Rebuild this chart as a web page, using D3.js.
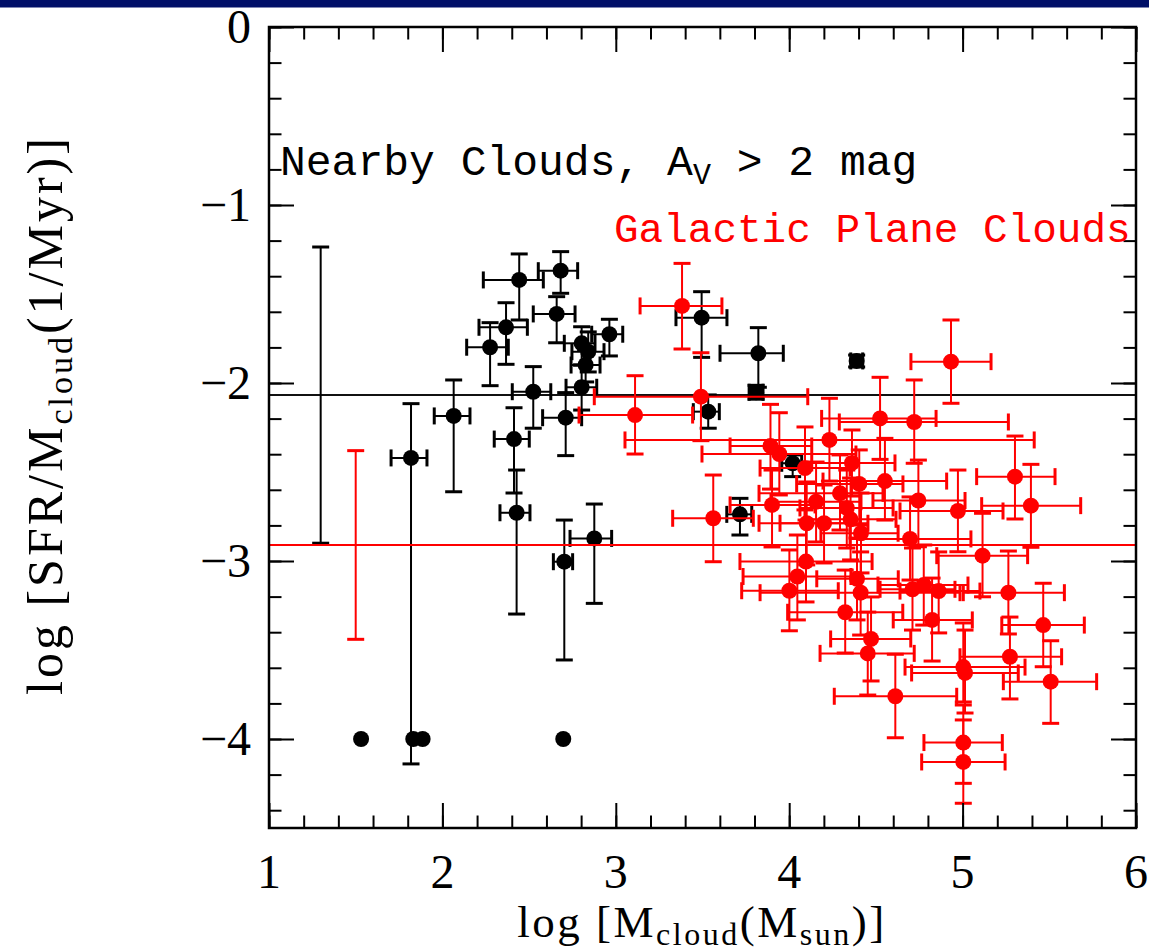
<!DOCTYPE html>
<html>
<head>
<meta charset="utf-8">
<script src="https://cdn.jsdelivr.net/npm/d3@7"></script>
<style>
  html, body { margin: 0; padding: 0; background: #fff; }
  svg { display: block; }
</style>
</head>
<body>
<svg id="chart" width="1149" height="951"></svg>
<script>
// ---- Nearby clouds (A_V > 2 mag): log mass, log SFR/M and error-bar bounds ----
const nearbyX   = [1.819, 2.065, 2.413, 2.428, 2.703, 2.876, 2.711, 2.524, 2.803, 2.275, 2.367, 2.443, 2.682, 2.659, 2.803, 2.841, 2.826, 2.963, 3.495, 3.822, 3.809, 4.389, 3.533, 4.020, 3.716, 1.531, 1.832, 1.886, 2.697];
const nearbyY   = [-2.421, -2.185, -2.315, -2.729, -3.004, -2.873, -2.195, -2.049, -2.024, -1.799, -1.687, -1.421, -1.369, -1.612, -1.777, -1.824, -1.899, -1.726, -1.633, -1.833, -2.052, -1.876, -2.161, -2.451, -2.738, -4, -4, -4, -4];
const nearbyXLo = [1.704, 1.953, 2.299, 2.332, 2.640, 2.736, 2.578, 2.403, 2.713, 2.140, 2.211, 2.236, 2.553, 2.524, 2.703, 2.747, 2.742, 2.861, 3.347, 3.601, 3.769, 4.355, 3.447, 3.957, 3.640, null, null, null, null];
const nearbyXHi = [1.911, 2.159, 2.501, 2.505, 2.751, 2.976, 2.803, 2.625, 2.890, 2.380, 2.490, 2.582, 2.780, 2.765, 2.880, 2.932, 2.909, 3.040, 3.641, 3.966, 3.849, 4.424, 3.597, 4.072, 3.784, null, null, null, null];
const nearbyYLo = [-4.140, -2.611, -2.618, -3.298, -3.556, -3.238, -2.408, -2.254, -2.152, -2.015, -1.895, -1.646, -1.496, -1.774, -1.899, -1.938, -1.994, -1.848, -1.856, -2.024, -2.091, -1.910, -2.254, -2.526, -2.854, null, null, null, null];
const nearbyYHi = [-2.116, -1.983, -2.139, -2.489, -2.770, -2.680, -2.054, -1.908, -1.899, -1.661, -1.549, -1.275, -1.262, -1.515, -1.684, -1.713, -1.815, -1.642, -1.487, -1.689, -2.013, -1.843, -2.067, -2.404, -2.648, null, null, null, null];

// ---- Galactic plane clouds ----
const galacticX   = [3.382, 3.491, 3.111, 3.562, 3.892, 3.943, 3.901, 4.232, 4.091, 4.362, 4.524, 4.721, 4.933, 4.552, 4.404, 4.293, 4.155, 4.745, 4.973, 4.332, 4.354, 4.101, 4.201, 4.414, 4.697, 5.115, 4.097, 4.047, 4.001, 4.391, 4.412, 4.711, 4.776, 4.862, 4.323, 4.824, 4.472, 4.453, 5.004, 5.014, 5.264, 5.465, 5.273, 5.508, 4.612, 5.004, 5.004, 5.302, 5.394];
const galacticY   = [-1.567, -2.077, -2.180, -2.760, -2.354, -2.399, -2.685, -2.320, -2.478, -2.449, -2.199, -2.219, -1.880, -2.551, -2.567, -2.620, -2.667, -2.660, -2.719, -2.702, -2.766, -2.788, -2.788, -2.844, -2.876, -2.970, -3.003, -3.087, -3.167, -3.100, -3.178, -3.159, -3.135, -3.169, -3.288, -3.331, -3.438, -3.519, -3.596, -3.629, -3.178, -3.360, -3.538, -3.678, -3.760, -4.020, -4.129, -2.526, -2.689];
const galacticXLo = [3.140, 2.876, 2.788, 3.328, 3.659, 3.497, 3.659, 3.053, 3.832, 4.130, 4.187, 4.289, 4.702, 4.195, 4.043, 3.826, 3.895, 4.483, 4.639, 4.062, 4.091, 3.826, 3.947, 4.183, 4.351, 4.851, 3.716, 3.734, 3.726, 4.159, 3.832, 4.524, 4.512, 4.639, 3.991, 4.600, 4.239, 4.178, 4.668, 4.706, 5.004, 5.226, 4.985, 5.235, 4.260, 4.777, 4.764, 5.081, 5.110];
const galacticXHi = [3.612, 4.107, 3.443, 3.793, 4.130, 4.385, 4.149, 5.413, 4.351, 4.610, 4.847, 5.264, 5.164, 4.908, 4.656, 4.541, 4.414, 5.014, 5.233, 4.599, 4.616, 4.351, 4.454, 4.628, 5.048, 5.375, 4.478, 4.356, 4.283, 4.629, 4.985, 4.956, 5.031, 5.100, 4.655, 5.056, 4.701, 4.721, 5.360, 5.321, 5.587, 5.702, 5.571, 5.773, 4.966, 5.229, 5.245, 5.533, 5.681];
const galacticYLo = [-1.809, -2.324, -2.399, -3.004, -2.596, -2.629, -2.921, -2.551, -2.713, -2.635, -2.429, -2.451, -2.114, -2.770, -2.798, -2.826, -2.893, -2.920, -2.948, -2.927, -2.994, -3.022, -3.011, -3.067, -3.107, -3.201, -3.230, -3.331, -3.392, -3.331, -3.416, -3.388, -3.360, -3.404, -3.517, -3.562, -3.674, -3.753, -3.792, -3.854, -3.410, -3.594, -3.775, -3.912, -3.993, -4.249, -4.361, -2.764, -2.923];
const galacticYHi = [-1.328, -1.830, -1.959, -2.517, -2.120, -2.167, -2.489, -2.086, -2.247, -2.264, -1.968, -1.983, -1.646, -2.311, -2.376, -2.404, -2.444, -2.433, -2.489, -2.489, -2.534, -2.556, -2.573, -2.618, -2.640, -2.732, -2.770, -2.854, -2.938, -2.871, -2.949, -2.927, -2.910, -2.949, -3.051, -3.096, -3.202, -3.287, -3.348, -3.388, -2.944, -3.125, -3.315, -3.448, -3.524, -3.809, -3.893, -2.298, -2.457];

// ---- Sample means and their scatter (drawn as lines plus a bar at the left) ----
const nearbyMean = -2.068, nearbySpread = 0.832, nearbySpreadX = 1.298;
const galacticMean = -2.910, galacticSpread = 0.530, galacticSpreadX = 1.5;

// ---- Axis ticks ----
const xTicks = [1, 2, 3, 4, 5, 6];
const yTicks = [0, -1, -2, -3, -4];
const xMinor = d3.range(0, 26).map(i => 1 + i * 0.2);
const yMinor = d3.range(0, 23).map(i => -4.4 + i * 0.2);

const W = 1149, H = 951;
const plotLeft = 269, plotRight = 1136, plotTop = 27, plotBottom = 828;
const RED = "#ff0000";

const x = d3.scaleLinear().domain([1, 6]).range([plotLeft, plotRight]);
const y = d3.scaleLinear().domain([-4.5, 0]).range([plotBottom, plotTop]);

const svg = d3.select("#chart");
svg.append("rect").attr("width", W).attr("height", H).attr("fill", "#fff");
// dark banner along the top edge
svg.append("rect").attr("x", 0).attr("y", 0).attr("width", W).attr("height", 7.5).attr("fill", "#000f68");

function rows(xs, ys, xl, xh, yl, yh) {
  return xs.map((v, i) => ({ x: v, y: ys[i], xLo: xl[i], xHi: xh[i], yLo: yl[i], yHi: yh[i] }));
}
const nearby = rows(nearbyX, nearbyY, nearbyXLo, nearbyXHi, nearbyYLo, nearbyYHi);
const galactic = rows(galacticX, galacticY, galacticXLo, galacticXHi, galacticYLo, galacticYHi);

const CAP = 8.5;

function errorBars(g, data, color) {
  const bars = g.append("g").attr("stroke", color).attr("fill", "none");
  data.forEach(d => {
    if (d.xLo != null) {
      const yy = y(d.y);
      bars.append("line").attr("x1", x(d.xLo)).attr("x2", x(d.xHi)).attr("y1", yy).attr("y2", yy).attr("stroke-width", 2);
      [d.xLo, d.xHi].forEach(v => bars.append("line")
        .attr("x1", x(v)).attr("x2", x(v)).attr("y1", yy - CAP).attr("y2", yy + CAP).attr("stroke-width", 3));
    }
    if (d.yLo != null) {
      const xx = x(d.x);
      bars.append("line").attr("x1", xx).attr("x2", xx).attr("y1", y(d.yLo)).attr("y2", y(d.yHi)).attr("stroke-width", 2);
      [d.yLo, d.yHi].forEach(v => bars.append("line")
        .attr("x1", xx - CAP).attr("x2", xx + CAP).attr("y1", y(v)).attr("y2", y(v)).attr("stroke-width", 3));
    }
  });
}

function dots(g, data, color) {
  g.append("g").selectAll("circle").data(data).join("circle")
    .attr("cx", d => x(d.x)).attr("cy", d => y(d.y)).attr("r", 8).attr("fill", color);
}

function meanLine(g, mean, color) {
  g.append("line").attr("x1", x(1)).attr("x2", x(6)).attr("y1", y(mean)).attr("y2", y(mean))
    .attr("stroke", color).attr("stroke-width", 2);
}

function spreadBar(g, xv, mean, spread, color) {
  const xx = x(xv);
  g.append("line").attr("x1", xx).attr("x2", xx).attr("y1", y(mean - spread)).attr("y2", y(mean + spread))
    .attr("stroke", color).attr("stroke-width", 2);
  [mean - spread, mean + spread].forEach(v => g.append("line")
    .attr("x1", xx - CAP).attr("x2", xx + CAP).attr("y1", y(v)).attr("y2", y(v))
    .attr("stroke", color).attr("stroke-width", 3));
}

const plot = svg.append("g");
meanLine(plot, nearbyMean, "#111");
spreadBar(plot, nearbySpreadX, nearbyMean, nearbySpread, "#000");
errorBars(plot, nearby, "#000");
dots(plot, nearby, "#000");

meanLine(plot, galacticMean, RED);
spreadBar(plot, galacticSpreadX, galacticMean, galacticSpread, RED);
errorBars(plot, galactic, RED);
dots(plot, galactic, RED);

// ---- Frame and inward ticks on all four sides ----
function tickSet(axis, tx, ty, values, len) {
  svg.append("g").attr("transform", `translate(${tx},${ty})`)
    .call(axis.tickValues(values).tickSize(-len).tickFormat(""))
    .call(g => g.select(".domain").remove())
    .selectAll("line").attr("stroke", "#000").attr("stroke-width", 2);
}
tickSet(d3.axisBottom(x), 0, plotBottom, xMinor, 12.5);
tickSet(d3.axisBottom(x), 0, plotBottom, xTicks, 25);
tickSet(d3.axisTop(x), 0, plotTop, xMinor, 12.5);
tickSet(d3.axisTop(x), 0, plotTop, xTicks, 25);
tickSet(d3.axisLeft(y), plotLeft, 0, yMinor, 12.5);
tickSet(d3.axisLeft(y), plotLeft, 0, yTicks, 25);
tickSet(d3.axisRight(y), plotRight, 0, yMinor, 12.5);
tickSet(d3.axisRight(y), plotRight, 0, yTicks, 25);

svg.append("rect").attr("x", plotLeft).attr("y", plotTop)
  .attr("width", plotRight - plotLeft).attr("height", plotBottom - plotTop)
  .attr("fill", "none").attr("stroke", "#000").attr("stroke-width", 2.5);

// ---- Tick labels ----
const serif = "'Liberation Serif', 'DejaVu Serif', serif";
svg.append("g").selectAll("text").data(xTicks).join("text")
  .attr("x", d => x(d)).attr("y", 888).attr("text-anchor", "middle")
  .attr("font-family", serif).attr("font-size", 48).attr("fill", "#000")
  .text(d => d);
svg.append("g").selectAll("text").data(yTicks).join("text")
  .attr("x", 251).attr("y", d => y(d) + 16).attr("text-anchor", "end")
  .attr("font-family", serif).attr("font-size", 48).attr("fill", "#000")
  .text(d => d === 0 ? "0" : "\u2212" + Math.abs(d));

// ---- Axis titles ----
const xt = svg.append("text").attr("x", 702).attr("y", 937).attr("text-anchor", "middle")
  .attr("font-family", serif).attr("font-size", 45).attr("letter-spacing", 2.5).attr("fill", "#000");
xt.append("tspan").text("log [M");
xt.append("tspan").attr("font-size", 32).attr("dy", 8).text("cloud");
xt.append("tspan").attr("dy", -8).text("(M");
xt.append("tspan").attr("font-size", 32).attr("dy", 8).text("sun");
xt.append("tspan").attr("dy", -8).text(")]");

const yt = svg.append("text").attr("transform", "translate(62,415) rotate(-90)").attr("text-anchor", "middle")
  .attr("font-family", serif).attr("font-size", 50).attr("letter-spacing", 3).attr("fill", "#000");
yt.append("tspan").text("log [SFR/M");
yt.append("tspan").attr("font-size", 34).attr("dy", 10).text("cloud");
yt.append("tspan").attr("dy", -10).text("(1/Myr)]");

// ---- Sample labels ----
const mono = "'Liberation Mono', 'DejaVu Sans Mono', monospace";
const t1 = svg.append("text").attr("x", 280).attr("y", 175)
  .attr("font-family", mono).attr("font-size", 43).attr("fill", "#000");
t1.append("tspan").text("Nearby Clouds, A");
t1.append("tspan").attr("font-size", 30).attr("dy", 9).text("V");
t1.append("tspan").attr("dy", -9).text(" > 2 mag");

svg.append("text").attr("x", 614).attr("y", 242)
  .attr("font-family", mono).attr("font-size", 41).attr("fill", RED)
  .text("Galactic Plane Clouds");
</script>
</body>
</html>
